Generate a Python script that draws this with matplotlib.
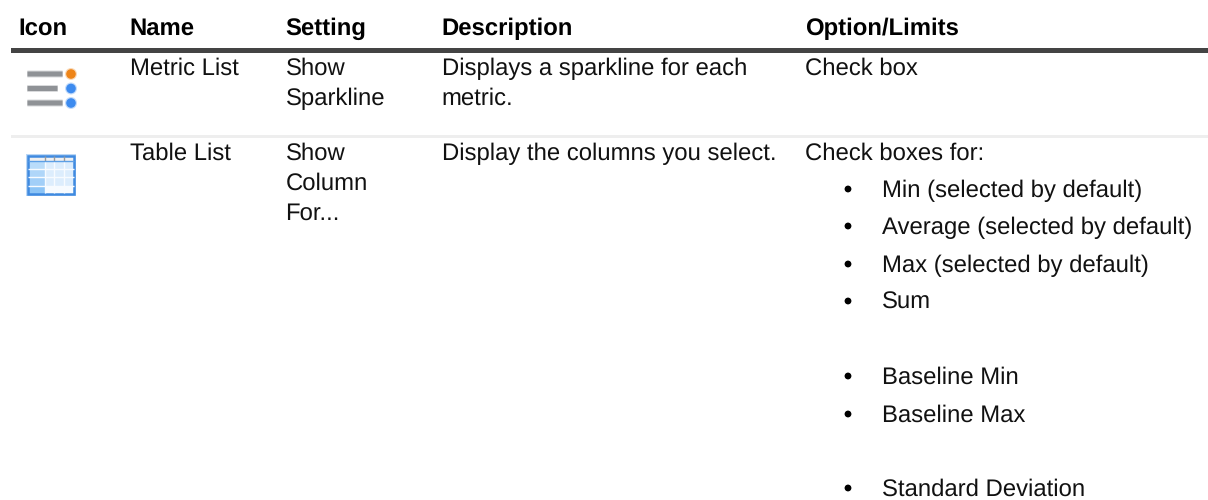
"""Settings table with icons, drawn on a pixel sized axes"""
import matplotlib
matplotlib.use('Agg')
import matplotlib.pyplot as plt
from matplotlib.patches import Rectangle, FancyBboxPatch, Circle

plt.rcParams['font.family'] = ['Liberation Sans', 'DejaVu Sans']
plt.rcParams['text.hinting'] = 'no_hinting'

# table content
HEADERS = ['Icon', 'Name', 'Setting', 'Description', 'Option/Limits']
NAMES = ['Metric List', 'Table List']
SETTINGS = [['Show', 'Sparkline'], ['Show', 'Column', 'For...']]
DESCRIPTIONS = [['Displays a sparkline for each', 'metric.'], ['Display the columns you select.']]
OPTIONS = ['Check box', 'Check boxes for:']
BULLETS = ['Min (selected by default)', 'Average (selected by default)', 'Max (selected by default)', 'Sum',
           'Baseline Min', 'Baseline Max', 'Standard Deviation']

# layout in pixels, y values are text baselines
COL_X = [18.5, 129.5, 285.5, 441.5, 805]
HEADER_Y = 35
ROW_Y = [75, 160]
LINE_H = 29.7
BULLET_Y = [197, 234, 272, 309, 384, 422, 496]
BULLET_DOT_X = 848
BULLET_TEXT_X = 881.5
FONT_PX = 23.85
TEXT_COLOUR = '#111111'


def px(size):
    """Convert pixels to points at 100 dpi"""
    return size * 72 / 100


def draw_text(ax):
    """Header, body cells and the bullet list"""
    for x, label in zip(COL_X, HEADERS):
        ax.text(x, HEADER_Y, label, fontsize=px(FONT_PX), fontweight='bold', va='baseline', color='black')

    for row, y in enumerate(ROW_Y):
        ax.text(COL_X[1], y, NAMES[row], fontsize=px(FONT_PX), va='baseline', color=TEXT_COLOUR)
        ax.text(COL_X[4], y, OPTIONS[row], fontsize=px(FONT_PX), va='baseline', color=TEXT_COLOUR)
        for i, line in enumerate(SETTINGS[row]):
            ax.text(COL_X[2], y + i * LINE_H, line, fontsize=px(FONT_PX), va='baseline', color=TEXT_COLOUR)
        for i, line in enumerate(DESCRIPTIONS[row]):
            ax.text(COL_X[3], y + i * LINE_H, line, fontsize=px(FONT_PX), va='baseline', color=TEXT_COLOUR)

    for y, label in zip(BULLET_Y, BULLETS):
        ax.add_patch(Circle((BULLET_DOT_X, y - 8), 3.4, color='black', lw=0))
        ax.text(BULLET_TEXT_X, y, label, fontsize=px(FONT_PX), va='baseline', color=TEXT_COLOUR)


def draw_metric_icon(ax):
    """Three grey bars with status dots, soft edges like the scaled bitmap"""
    for y, end, colour in [(74, 62, '#ee8417'), (88.5, 57, '#3d8bef'), (103, 62, '#3d8bef')]:
        ax.add_patch(FancyBboxPatch((28, y - 2.5), end - 28, 5, boxstyle='round,pad=1', color='#d9dadc', lw=0))
        ax.add_patch(FancyBboxPatch((28, y - 2), end - 28, 4, boxstyle='round,pad=0.5', color='#8f9296', lw=0))
        ax.add_patch(Circle((71, y), 6, color=colour, alpha=0.3, lw=0))
        ax.add_patch(Circle((71, y), 4.8, color=colour, lw=0))


def draw_table_icon(ax):
    """Small blue grid icon, fills first and the border last"""
    ax.add_patch(Rectangle((26, 154), 50, 42, facecolor='#bcd8f5', lw=0))
    ax.add_patch(Rectangle((28, 156), 46, 38, facecolor='#dcedfd', lw=0))
    ax.add_patch(Rectangle((45, 186), 29, 8, facecolor='#f7fbff', lw=0))
    for y0, y1, colour in [(161, 169, '#b9dcfa'), (169, 177, '#afd6f9'), (177, 186, '#a2cff8'), (186, 194, '#8cc4f6')]:
        ax.add_patch(Rectangle((28, y0), 16.5, y1 - y0, facecolor=colour, lw=0))
    ax.add_patch(Rectangle((28, 156), 46, 5, facecolor='#f0f0f0', lw=0))
    for x in [45, 54, 64]:
        ax.plot([x, x], [161, 193], color='#f7fbff', lw=1, solid_capstyle='butt')
        ax.plot([x, x], [156, 161], color='#9a9a9a', lw=1, solid_capstyle='butt')
    for y in [169, 177, 186]:
        ax.plot([28, 74], [y, y], color='#f7fbff', lw=1, solid_capstyle='butt')
    ax.plot([28, 74], [161, 161], color='#5c9fe6', lw=1, solid_capstyle='butt')
    ax.add_patch(Rectangle((28, 156), 46, 38, fill=False, edgecolor='#3f8ae0', lw=1.8))


def main():
    """Build the figure and save it"""
    fig = plt.figure(figsize=(12.08, 5), dpi=100)
    ax = fig.add_axes([0, 0, 1, 1])
    ax.set_xlim(0, 1208)
    ax.set_ylim(500, 0)
    ax.axis('off')

    # header rule and row rule
    ax.add_patch(Rectangle((11, 48), 1197, 5, color='#444444', lw=0))
    ax.add_patch(Rectangle((11, 135), 1197, 3, color='#eeeeee', lw=0))

    draw_text(ax)
    draw_metric_icon(ax)
    draw_table_icon(ax)
    fig.savefig('out.png', dpi=100)


main()
